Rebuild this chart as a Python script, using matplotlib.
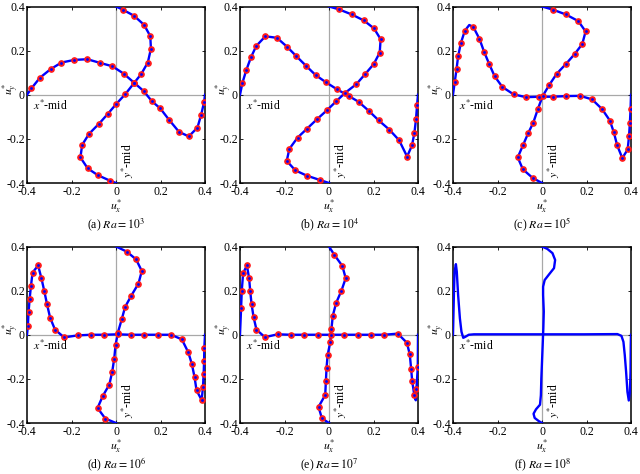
import matplotlib
matplotlib.use("Agg")
import matplotlib.pyplot as plt
import numpy as np

plt.rcParams['font.family'] = ['Liberation Serif', 'DejaVu Serif']
plt.rcParams['mathtext.fontset'] = 'stix'
plt.rcParams['axes.unicode_minus'] = False

# ---- data ----
# x*-mid curve: (x, u_y); y*-mid curve: (u_x, y); *_DOT = 1 where a red marker sits
A_XMID_X = [-0.400, -0.380, -0.342, -0.294, -0.245, -0.187, -0.129, -0.070, -0.016, 0.034, 0.082, 0.124,
            0.161, 0.199, 0.238, 0.283, 0.327, 0.366, 0.383, 0.396, 0.400]
A_XMID_U = [0.000, 0.029, 0.077, 0.116, 0.146, 0.158, 0.161, 0.144, 0.129, 0.096, 0.054, 0.017,
            -0.029, -0.062, -0.113, -0.168, -0.189, -0.149, -0.090, -0.033, 0.000]
A_XMID_DOT = [0] + [1] * 19 + [0]
A_YMID_U = [0.000, 0.030, 0.081, 0.126, 0.154, 0.157, 0.143, 0.114, 0.082, 0.042, 0.001, -0.037, -0.076,
            -0.121, -0.152, -0.160, -0.127, -0.081, -0.028, 0.000]
A_YMID_Y = [0.400, 0.386, 0.358, 0.317, 0.266, 0.209, 0.146, 0.095, 0.054, 0.003, -0.042, -0.087, -0.131,
            -0.177, -0.227, -0.284, -0.334, -0.365, -0.389, -0.400]
A_YMID_DOT = [0] + [1] * 18 + [0]

B_XMID_X = [-0.400, -0.389, -0.372, -0.351, -0.327, -0.286, -0.234, -0.189, -0.147, -0.103, -0.060, -0.013,
            0.037, 0.088, 0.133, 0.180, 0.223, 0.271, 0.315, 0.351, 0.373, 0.384, 0.391, 0.396, 0.400]
B_XMID_U = [0.000, 0.054, 0.111, 0.169, 0.221, 0.265, 0.258, 0.218, 0.175, 0.131, 0.089, 0.056,
            0.024, -0.005, -0.032, -0.074, -0.116, -0.158, -0.206, -0.280, -0.230, -0.172, -0.111, -0.045, 0.000]
B_XMID_DOT = [0] + [1] * 23 + [0]
B_YMID_U = [0.000, 0.045, 0.102, 0.156, 0.202, 0.232, 0.228, 0.201, 0.162, 0.123, 0.073, 0.033, -0.010,
            -0.054, -0.099, -0.141, -0.178, -0.190, -0.151, -0.099, -0.039, 0.000]
B_YMID_Y = [0.400, 0.387, 0.364, 0.337, 0.301, 0.252, 0.191, 0.139, 0.093, 0.048, 0.009, -0.029, -0.071,
            -0.111, -0.154, -0.194, -0.245, -0.300, -0.343, -0.367, -0.387, -0.400]
B_YMID_DOT = [0] + [1] * 20 + [0]

C_XMID_X = [-0.400, -0.392, -0.384, -0.377, -0.365, -0.347, -0.327, -0.309, -0.281, -0.260, -0.238, -0.213,
            -0.178, -0.128, -0.072, -0.012, 0.048, 0.110, 0.172, 0.225, 0.270, 0.305, 0.323, 0.338,
            0.361, 0.385, 0.391, 0.395, 0.398, 0.400]
C_XMID_U = [0.000, 0.059, 0.117, 0.174, 0.233, 0.290, 0.316, 0.308, 0.253, 0.194, 0.141, 0.084,
            0.035, 0.002, -0.011, -0.009, -0.009, -0.006, -0.005, -0.021, -0.065, -0.117, -0.171, -0.230,
            -0.287, -0.248, -0.189, -0.129, -0.066, 0.000]
C_XMID_DOT = [0, 1, 1, 1, 1, 1, 0] + [1] * 22 + [0]
C_YMID_U = [0.000, 0.048, 0.107, 0.163, 0.196, 0.181, 0.148, 0.109, 0.066, 0.033, 0.003, -0.018, -0.039,
            -0.062, -0.086, -0.109, -0.086, -0.042, 0.000]
C_YMID_Y = [0.400, 0.386, 0.364, 0.334, 0.287, 0.230, 0.186, 0.141, 0.095, 0.045, -0.006, -0.063, -0.126,
            -0.174, -0.230, -0.284, -0.338, -0.377, -0.400]
C_YMID_DOT = [0] + [1] * 17 + [0]

D_XMID_X = [-0.400, -0.396, -0.393, -0.388, -0.382, -0.375, -0.350, -0.335, -0.322, -0.310, -0.296, -0.274,
            -0.233, -0.173, -0.113, -0.053, 0.007, 0.068, 0.128, 0.188, 0.248, 0.296, 0.325, 0.341,
            0.353, 0.362, 0.385, 0.391, 0.394, 0.396, 0.397, 0.400]
D_XMID_U = [0.000, 0.041, 0.102, 0.164, 0.223, 0.282, 0.314, 0.255, 0.197, 0.138, 0.077, 0.023,
            -0.012, -0.003, 0.000, 0.000, 0.002, 0.000, 0.000, 0.000, 0.000, -0.021, -0.080, -0.133,
            -0.192, -0.252, -0.296, -0.236, -0.176, -0.118, -0.059, 0.000]
D_XMID_DOT = [0] + [1] * 30 + [0]
D_YMID_U = [0.000, 0.048, 0.090, 0.116, 0.101, 0.068, 0.041, 0.026, 0.008, -0.002, -0.008, -0.017, -0.030,
            -0.059, -0.083, -0.048, 0.000]
D_YMID_Y = [0.400, 0.377, 0.342, 0.289, 0.232, 0.176, 0.126, 0.071, 0.008, -0.047, -0.108, -0.168, -0.226,
            -0.277, -0.332, -0.380, -0.400]
D_YMID_DOT = [0] + [1] * 15 + [0]

E_XMID_X = [-0.400, -0.395, -0.392, -0.386, -0.369, -0.359, -0.354, -0.348, -0.339, -0.326, -0.288, -0.231,
            -0.171, -0.111, -0.051, 0.009, 0.069, 0.129, 0.189, 0.249, 0.309, 0.350, 0.363, 0.369,
            0.374, 0.383, 0.390, 0.393, 0.399, 0.400]
E_XMID_U = [0.000, 0.123, 0.200, 0.279, 0.314, 0.256, 0.197, 0.139, 0.080, 0.023, -0.011, 0.002,
            0.000, 0.000, 0.000, 0.000, 0.000, 0.000, 0.000, 0.000, 0.005, -0.036, -0.089, -0.153,
            -0.211, -0.271, -0.297, -0.245, -0.148, 0.000]
E_XMID_DOT = [0] + [1] * 25 + [0, 1, 1, 0]
E_YMID_U = [0.000, 0.024, 0.060, 0.075, 0.056, 0.032, 0.017, 0.011, 0.006, -0.006, -0.011, -0.014, -0.017,
            -0.047, -0.032, 0.000]
E_YMID_Y = [0.400, 0.362, 0.312, 0.256, 0.200, 0.144, 0.086, 0.026, -0.032, -0.091, -0.150, -0.211, -0.273,
            -0.327, -0.379, -0.400]
E_YMID_DOT = [0] + [1] * 14 + [0]

F_XMID_X = [-0.400, -0.396, -0.393, -0.387, -0.383, -0.377, -0.369, -0.362, -0.354, -0.344, -0.329, -0.306,
            -0.186, 0.039, 0.189, 0.339, 0.357, 0.366, 0.372, 0.378, 0.384, 0.390, 0.395, 0.398,
            0.399, 0.400]
F_XMID_U = [0.000, 0.180, 0.286, 0.320, 0.286, 0.180, 0.074, 0.014, -0.014, -0.009, 0.000, 0.002,
            0.002, 0.002, 0.002, 0.003, -0.005, -0.032, -0.092, -0.168, -0.259, -0.298, -0.259, -0.168,
            -0.047, 0.000]
F_XMID_DOT = [0] * 26
F_YMID_U = [0.000, 0.024, 0.047, 0.059, 0.054, 0.032, 0.012, 0.005, 0.005, 0.008, 0.006, 0.003, 0.000,
            -0.003, -0.005, -0.009, -0.027, -0.038, -0.033, -0.015, 0.000]
F_YMID_Y = [0.400, 0.389, 0.370, 0.339, 0.302, 0.274, 0.248, 0.218, 0.180, 0.105, 0.029, -0.047, -0.123,
            -0.198, -0.274, -0.317, -0.338, -0.358, -0.377, -0.391, -0.400]
F_YMID_DOT = [0] * 21

PANELS = [
    ('(a)', '3', A_XMID_X, A_XMID_U, A_XMID_DOT, A_YMID_U, A_YMID_Y, A_YMID_DOT),
    ('(b)', '4', B_XMID_X, B_XMID_U, B_XMID_DOT, B_YMID_U, B_YMID_Y, B_YMID_DOT),
    ('(c)', '5', C_XMID_X, C_XMID_U, C_XMID_DOT, C_YMID_U, C_YMID_Y, C_YMID_DOT),
    ('(d)', '6', D_XMID_X, D_XMID_U, D_XMID_DOT, D_YMID_U, D_YMID_Y, D_YMID_DOT),
    ('(e)', '7', E_XMID_X, E_XMID_U, E_XMID_DOT, E_YMID_U, E_YMID_Y, E_YMID_DOT),
    ('(f)', '8', F_XMID_X, F_XMID_U, F_XMID_DOT, F_YMID_U, F_YMID_Y, F_YMID_DOT),
]
TICKS = [-0.4, -0.2, 0, 0.2, 0.4]
TICK_LABELS = ['-0.4', '-0.2', '0', '0.2', '0.4']

fig = plt.figure(figsize=(6.4, 4.74), dpi=100)
lefts = [27 / 640, 240 / 640, 453 / 640]
bottoms = [(474 - 183) / 474, (474 - 423) / 474]
w, h = 178 / 640, 176.5 / 474


def draw_curve(ax, xs, ys, dots):
    xs, ys, m = np.array(xs), np.array(ys), np.array(dots, dtype=bool)
    ax.plot(xs, ys, color='#0000ff', lw=1.7, zorder=3, solid_joinstyle='round')
    if m.any():
        ax.plot(xs[m], ys[m], 'o', color='#ff1a1a', ms=3.8, mec='#ff1a1a', zorder=4)
        ax.plot(xs[m], ys[m], 'o', color='#0000ff', ms=1.0, mec='#0000ff', zorder=5)


for i, (tag, expo, xx, xu, xd, yu, yy, yd) in enumerate(PANELS):
    ax = fig.add_axes([lefts[i % 3], bottoms[i // 3], w, h])
    ax.set_xlim(-0.4, 0.4)
    ax.set_ylim(-0.4, 0.4)
    ax.axhline(0, color='#a8a8a8', lw=0.9, zorder=1)
    ax.axvline(0, color='#a8a8a8', lw=0.9, zorder=1)
    draw_curve(ax, xx, xu, xd)
    draw_curve(ax, yu, yy, yd)
    ax.set_xticks(TICKS)
    ax.set_yticks(TICKS)
    ax.set_xticklabels(TICK_LABELS)
    ax.set_yticklabels(TICK_LABELS)
    ax.tick_params(direction='in', length=2.5, width=0.6, top=True, right=True,
                   labelsize=8.5, pad=1.5)
    ax.tick_params(axis='x', pad=2.5)
    for s in ax.spines.values():
        s.set_linewidth(1.1)
    ax.text(-0.372, -0.052, r'$x^{*}$-mid', fontsize=8.5, ha='left', va='center', zorder=6)
    ax.text(0.055, -0.297, r'$y^{*}$-mid', fontsize=8.5, ha='center', va='center',
            rotation=90, zorder=6)
    ax.annotate(r'$u_x^{*}$', xy=(0.5, 0), xycoords='axes fraction', xytext=(0, -17),
                textcoords='offset points', ha='center', va='center', fontsize=8.5)
    ax.annotate(r'$u_y^{*}$', xy=(0, 0.5), xycoords='axes fraction', xytext=(-12.5, 4.5),
                textcoords='offset points', ha='center', va='center', fontsize=8.5, rotation=90)
    ax.annotate(tag + r' $\mathit{Ra}=10^{' + expo + '}$', xy=(0.5, 0), xycoords='axes fraction',
                xytext=(0, -30), textcoords='offset points', ha='center', va='center', fontsize=8.5)

fig.savefig('out.png', dpi=100)
